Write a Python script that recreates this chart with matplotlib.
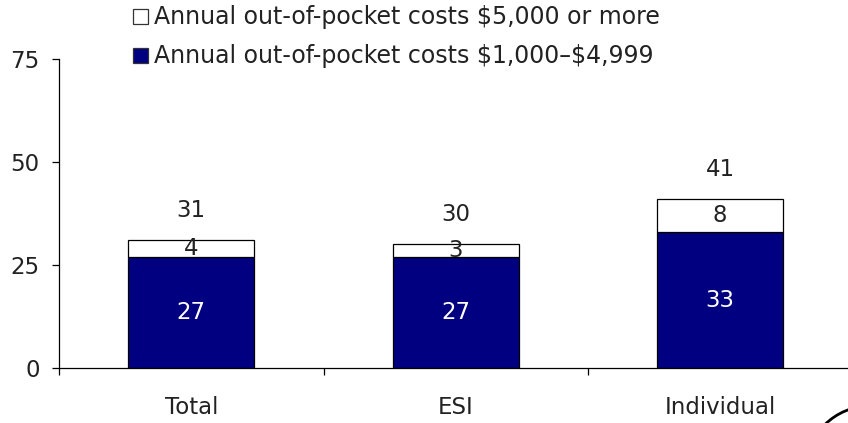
import matplotlib
matplotlib.use('Agg')

import matplotlib.pyplot as plt
from matplotlib.patches import Arc, Rectangle

# Dados
categorias = ["Total", "ESI", "Individual"]
custo_1000_4999 = [27, 27, 33]
custo_5000_mais = [4, 3, 8]
totais = [31, 30, 41]
yticks = [0, 25, 50, 75]
rotulos_legenda = ["Annual out-of-pocket costs $5,000 or more",
                   "Annual out-of-pocket costs $1,000\u2013$4,999"]

plt.rcParams['font.family'] = ['DejaVu Sans']
plt.rcParams['text.parse_math'] = False

W, H = 848, 423
fig = plt.figure(figsize=(W / 100, H / 100), dpi=100)
ax = fig.add_axes([59 / W, 1 - 368 / H, 793.5 / W, (368 - 59) / H])

x = range(len(categorias))
largura = 0.476
azul = '#000080'
fs = 16.5
cor_texto = '#222222'

ax.bar(x, custo_1000_4999, largura, color=azul, edgecolor='black', linewidth=0.9)
ax.bar(x, custo_5000_mais, largura, bottom=custo_1000_4999, color='white',
       edgecolor='black', linewidth=0.9)

# Rótulos dos segmentos
for i in x:
    ax.text(i, custo_1000_4999[i] / 2, str(custo_1000_4999[i]), ha='center', va='center',
            color='white', fontsize=fs)
    ax.text(i, custo_1000_4999[i] + custo_5000_mais[i] / 2, str(custo_5000_mais[i]),
            ha='center', va='center', color=cor_texto, fontsize=fs)
    ax.text(i, totais[i] + 7.2, str(totais[i]), ha='center', va='center',
            color=cor_texto, fontsize=fs)

ax.set_xlim(-0.5, 2.5)
ax.set_ylim(0, 75)
ax.set_yticks(yticks)
ax.tick_params(axis='y', labelsize=fs, length=5, width=0.9, pad=9, labelcolor=cor_texto)

ax.set_xticks(list(x))
ax.set_xticklabels(categorias, fontsize=fs, color=cor_texto)
ax.tick_params(axis='x', which='major', length=0, pad=20)
ax.set_xticks([-0.5, 0.5, 1.5, 2.5], minor=True)
ax.tick_params(axis='x', which='minor', length=5, width=0.9, direction='out')

for lado in ['top', 'right']:
    ax.spines[lado].set_visible(False)
ax.spines['left'].set_linewidth(0.9)
ax.spines['bottom'].set_linewidth(0.9)

# Legenda (manual, em pixels da figura)
for rotulo, cor, yc in zip(rotulos_legenda, ['white', azul], [17, 56]):
    fig.patches.append(Rectangle((133 / W, 1 - (yc + 7.5) / H), 15 / W, 15 / H,
                                 transform=fig.transFigure, facecolor=cor,
                                 edgecolor='#333333', linewidth=0.9))
    fig.text(154 / W, 1 - yc / H, rotulo, ha='left', va='center',
             fontsize=17, color=cor_texto)

# Arco decorativo no canto
fig.patches.append(Arc((870 / W, 1 - 470 / H), 128 / W, 128 / H,
                       transform=fig.transFigure, color='black', linewidth=2,
                       theta1=90, theta2=180))

fig.savefig('out.png', dpi=100)
plt.close(fig)
